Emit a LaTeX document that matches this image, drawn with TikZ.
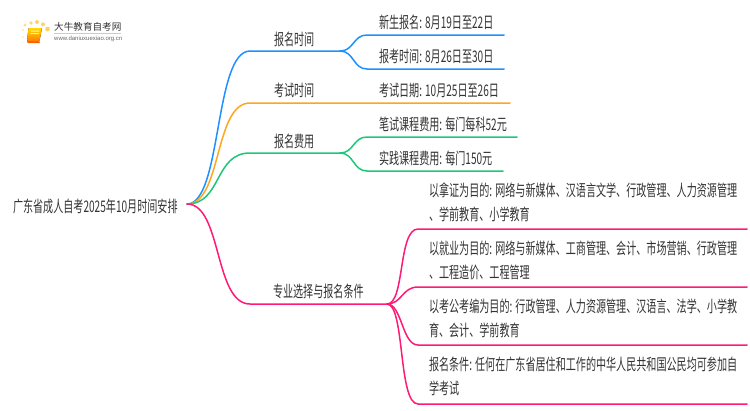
\documentclass[tikz,border=0pt]{standalone}
\usepackage{fontspec}
\setmainfont{Noto Sans CJK SC}[FakeStretch=0.63]
\newfontfamily\logofont{Noto Sans CJK SC}
\newfontfamily\urlfont{Liberation Sans}
\definecolor{cblue}{HTML}{1E90FF}
\definecolor{corange}{HTML}{FFA51F}
\definecolor{cgreen}{HTML}{1CC878}
\definecolor{cpink}{HTML}{FF1A75}
\definecolor{ctext}{HTML}{333333}
\definecolor{cdot}{HTML}{FFD060}
\tikzset{
  link/.style={line width=1.5pt,line cap=round},
  lab/.style={anchor=base west,inner sep=0pt,outer sep=0pt,text=ctext,font=\fontsize{16}{16}\selectfont},
  para/.style={anchor=north west,inner sep=0pt,outer sep=0pt,text=ctext,font=\fontsize{16}{24}\selectfont,align=left}
}
\begin{document}
\begin{tikzpicture}[x=1pt,y=-1pt]
\useasboundingbox (0,0) rectangle (750,410);
% logo
\foreach \px/\py/\r/\o in {23/37/1.1/.35,23.5/42/1/.2,23/30/1.2/.5,25/25/1.6/.7,31/23/1.9/.85,37/22/2/.95,43/24.3/2/.95,47.5/29/2.3/1}{
  \fill[cdot,opacity=\o] (\px,\py) circle (\r);}
\fill[top color=yellow!70!orange,bottom color=orange,rounded corners=.8pt] (28.5,28) -- (42,28) -- (39.5,41) -- (27,41) -- cycle;
\fill[orange!75!red,rounded corners=.5pt] (27,41) -- (39.5,41) -- (40,43) -- (28,43) -- (27,42) -- cycle;
\fill[white,opacity=.75] (31,30.6) -- (39.4,30.6) -- (39.2,31.6) -- (30.8,31.6) -- cycle;
\fill[white,opacity=.75] (30.6,33) -- (39,33) -- (38.8,34) -- (30.4,34) -- cycle;
\node[anchor=west,inner sep=0pt,text=ctext] (logoname) at (54,27) {\logofont\fontsize{9.6}{10}\selectfont 大牛教育自考网};
\node[anchor=west,inner sep=0pt,text=black!60] (logourl) at (54,38.8) {\urlfont\fontsize{6}{6}\selectfont www.daniuxuexiao.org.cn};
\draw[black!20,line width=.5pt] (54,33.5) -- (121,33.5);
% anchors
\coordinate (root) at (187,204);
\coordinate (b1) at (250,51);\coordinate (b1e) at (340,51);
\coordinate (o1) at (250,103);\coordinate (o1e) at (510,103);
\coordinate (g1) at (250,153);\coordinate (g1e) at (340,153);
\coordinate (p1) at (250,304);\coordinate (p1e) at (387,304);
% main branches
\draw[link,cblue] (root) .. controls (222,204) and (214,51) .. (b1) -- (b1e);
\draw[link,corange] (root) .. controls (222,204) and (214,103) .. (o1) -- (o1e);
\draw[link,cgreen] (root) .. controls (222,204) and (214,153) .. (g1) -- (g1e);
\draw[link,cpink] (root) .. controls (222,204) and (214,304) .. (p1) -- (p1e);
% sub-branches
\coordinate (b2) at (367,35);\coordinate (b2e) at (504,35);
\coordinate (b3) at (367,69);\coordinate (b3e) at (504,69);
\coordinate (g2) at (367,137);\coordinate (g2e) at (517,137);
\coordinate (g3) at (367,171);\coordinate (g3e) at (503,171);
\draw[link,cblue] (b1e) .. controls (354,51) and (353,35) .. (b2) -- (b2e);
\draw[link,cblue] (b1e) .. controls (354,51) and (353,69) .. (b3) -- (b3e);
\draw[link,cgreen] (g1e) .. controls (354,153) and (353,137) .. (g2) -- (g2e);
\draw[link,cgreen] (g1e) .. controls (354,153) and (353,171) .. (g3) -- (g3e);
\coordinate (p2) at (418,229);\coordinate (p2e) at (747,229);
\coordinate (p3) at (418,287);\coordinate (p3e) at (747,287);
\coordinate (p4) at (418,345);\coordinate (p4e) at (747,345);
\coordinate (p5) at (418,404);\coordinate (p5e) at (747,404);
\draw[link,cpink] (p1e) .. controls (405,304) and (398,229) .. (p2) -- (p2e);
\draw[link,cpink] (p1e) .. controls (402,304) and (402,287) .. (p3) -- (p3e);
\draw[link,cpink] (p1e) .. controls (402,304) and (402,345) .. (p4) -- (p4e);
\draw[link,cpink] (p1e) .. controls (405,304) and (398,404) .. (p5) -- (p5e);
% labels
\node[lab] (root-t) at (13,212) {广东省成人自考2025年10月时间安排};
\node[lab] (t1) at (274,45) {报名时间};
\node[lab] (t2) at (274,96) {考试时间};
\node[lab] (t3) at (274,147) {报名费用};
\node[lab] (t4) at (273,297) {专业选择与报名条件};
\node[lab] (t11) at (379,28) {新生报名: 8月19日至22日};
\node[lab] (t12) at (379,62) {报考时间: 8月26日至30日};
\node[lab] (t21) at (379,96) {考试日期: 10月25日至26日};
\node[lab] (t31) at (379,130) {笔试课程费用: 每门每科52元};
\node[lab] (t32) at (379,164) {实践课程费用: 每门150元};
\node[para] (t41) at (429,183) {以拿证为目的: 网络与新媒体、汉语言文学、行政管理、人力资源管理\\、学前教育、小学教育};
\node[para] (t42) at (429,241) {以就业为目的: 网络与新媒体、工商管理、会计、市场营销、行政管理\\、工程造价、工程管理};
\node[para] (t43) at (429,299) {以考公考编为目的: 行政管理、人力资源管理、汉语言、法学、小学教\\育、会计、学前教育};
\node[para] (t44) at (429,357) {报名条件: 任何在广东省居住和工作的中华人民共和国公民均可参加自\\学考试};
\end{tikzpicture}
\end{document}
